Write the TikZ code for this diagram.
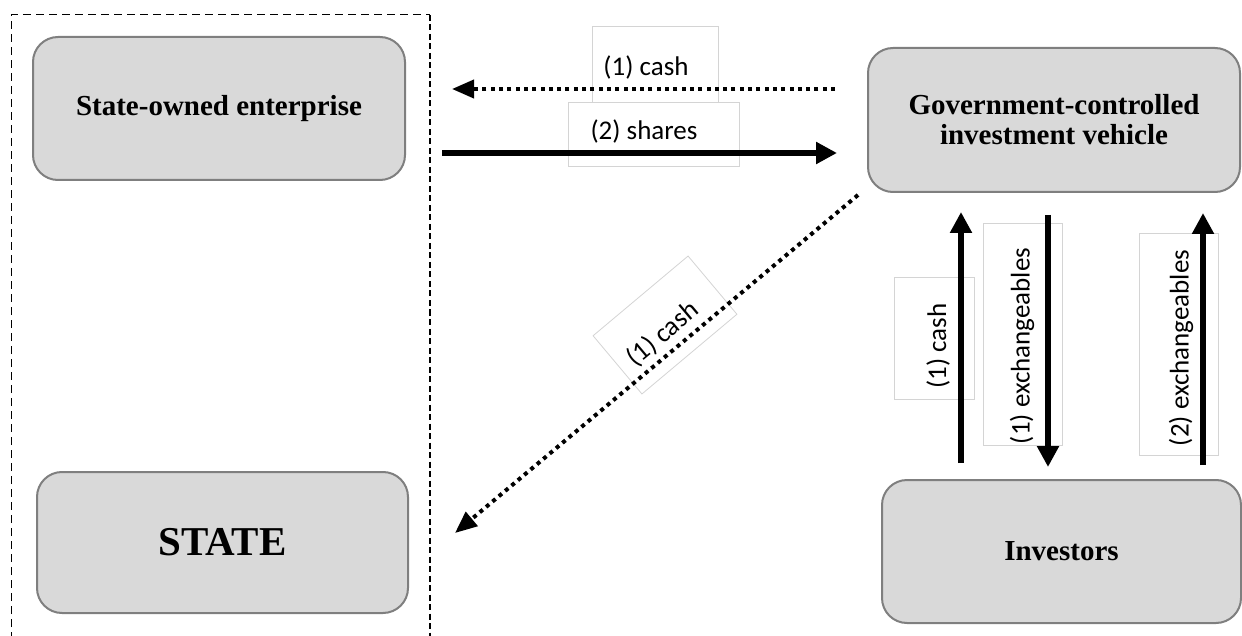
\documentclass[tikz,border=0pt]{standalone}
\usepackage{fontspec}
\setmainfont{Liberation Serif}
\newfontfamily\lblfont{Carlito}
\usetikzlibrary{arrows.meta}
\definecolor{boxfill}{HTML}{D9D9D9}
\definecolor{boxline}{HTML}{7F7F7F}
\definecolor{lblline}{HTML}{D4D4D4}
\tikzset{
  entity/.style={draw=boxline, line width=2pt, fill=boxfill, rounded corners=25pt,
    font=\fontsize{29}{30}\selectfont\bfseries, align=center, inner sep=0pt},
  lbox/.style={draw=lblline, line width=0.8pt, fill=white, inner sep=0pt},
  lbl/.style={font=\lblfont\fontsize{27}{29}\selectfont, inner sep=0pt},
  solidarrow/.style={line width=5.5pt, -{Triangle[length=21pt,width=21pt]}},
  dotarrow/.style={line width=4pt, dash pattern=on 4pt off 4.3pt, -{Triangle[length=22pt,width=18pt]}},
}
\begin{document}
\begin{tikzpicture}[x=1pt,y=-1pt]
\useasboundingbox (0,0) rectangle (1242,636);
% dashed frame
\draw[line width=1pt, dash pattern=on 8pt off 5pt] (11,640) -- (11,15) -- (430,15);
\draw[line width=2pt, dash pattern=on 6pt off 3.5pt] (430,15) -- (430,640);
% entities
\node[entity, minimum width=372pt, minimum height=143pt] (soe) at (219,108.5) {State-owned enterprise};
\node[entity, minimum width=372pt, minimum height=144pt] (gciv) at (1054,120) {Government-controlled\\investment vehicle};
\node[entity, minimum width=371pt, minimum height=141pt, font=\fontsize{41}{43}\selectfont\bfseries] (state) at (222.5,542.5) {STATE};
\node[entity, minimum width=359pt, minimum height=143pt] (inv) at (1061.5,551.5) {\raisebox{-7pt}{Investors}};
% label boxes
\node[lbox, minimum width=126pt, minimum height=76pt] (b1) at (655,64) {};
\node[lbox, minimum width=171pt, minimum height=64pt] (b2) at (653.5,134) {};
\node[lbox, minimum width=124pt, minimum height=76pt, rotate=40] (b3) at (665,325) {};
\node[lbox, minimum width=80pt, minimum height=122pt] (b4) at (934,338) {};
\node[lbox, minimum width=79pt, minimum height=222pt] (b5) at (1022.5,334) {};
\node[lbox, minimum width=79pt, minimum height=222pt] (b6) at (1178.5,344) {};
% connector end points
\coordinate (c1s) at (835,89);  \coordinate (c1e) at (452,89);
\coordinate (s2s) at (442,153); \coordinate (s2e) at (837,153);
\coordinate (dgs) at (858,195); \coordinate (dge) at (455,533);
\coordinate (vcs) at (961,463); \coordinate (vce) at (961,212);
\coordinate (v1s) at (1048,215); \coordinate (v1e) at (1048,467);
\coordinate (v2s) at (1203,465); \coordinate (v2e) at (1203,213);
% connectors
\draw[dotarrow] (c1s) -- (c1e);
\draw[solidarrow] (s2s) -- (s2e);
\draw[dotarrow] (dgs) -- (dge);
\draw[solidarrow] (vcs) -- (vce);
\draw[solidarrow] (v1s) -- (v1e);
\draw[solidarrow] (v2s) -- (v2e);
% labels
\node[lbl] (t1) at (646,68) {(1) cash};
\node[lbl] (t2) at (644,131) {(2) shares};
\node[lbl, rotate=40] (t3) at (663,334) {(1) cash};
\node[lbl, rotate=90] (t4) at (938,346) {(1) cash};
\node[lbl, rotate=90] (t5) at (1022,346) {(1) exchangeables};
\node[lbl, rotate=90] (t6) at (1181,348) {(2) exchangeables};
\end{tikzpicture}
\end{document}
